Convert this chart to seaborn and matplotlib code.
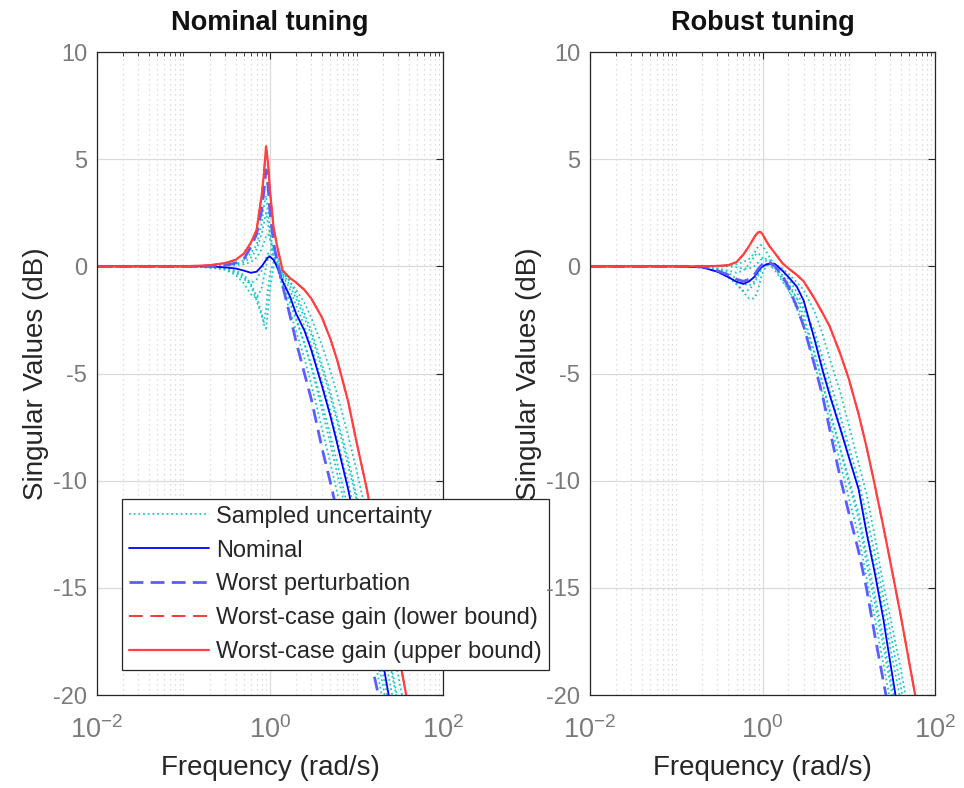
import numpy as np
import pandas as pd
import seaborn as sns
import matplotlib
matplotlib.use('Agg')
import matplotlib.pyplot as plt
from matplotlib.ticker import FixedLocator, NullFormatter

# frequency grid (rad/s) shared by every curve
freq = [0.01, 0.05, 0.1, 0.2, 0.3, 0.4, 0.5, 0.6, 0.7, 0.8, 0.85, 0.9, 0.95, 1.0, 1.1, 1.2,
        1.4, 1.7, 2.0, 2.5, 3, 4, 5, 6, 8, 10, 13, 16, 20, 25, 30, 40, 60, 100]

# ---- Nominal tuning (dB) ----
nom_nominal = [0, 0, 0, 0, -0.05, -0.1, -0.2, -0.3, -0.25, 0.0, 0.15, 0.3, 0.42, 0.45, 0.3, 0.0,
               -0.7, -1.4, -2.2, -3.0, -3.9, -5.6, -7.0, -8.3, -10.4, -12.3, -14.5, -16.3, -18.4,
               -20.6, -22.2, -24.5, -28, -32]
nom_worst = [0, 0, 0, 0, 0.05, 0.15, 0.35, 0.9, 1.5, 2.6, 3.5, 4.5, 3.7, 2.5, 1.1, 0.3,
             -0.9, -2.3, -3.5, -5.0, -6.2, -8.5, -10.1, -11.5, -13.6, -15.3, -17.4, -19.1, -20.9,
             -22.7, -24.2, -26.5, -30, -34]
nom_upper = [0, 0, 0, 0.05, 0.15, 0.3, 0.6, 1.1, 1.7, 3.3, 4.3, 5.6, 4.8, 3.5, 1.8, 1.0,
             -0.2, -0.55, -0.75, -1.1, -1.5, -2.4, -3.4, -4.4, -6.3, -8.2, -10.3, -12.2, -14.2,
             -16.2, -17.9, -20.6, -24, -29]
nom_lower = nom_upper  # lies under the upper bound in the picture
nom_samples = [
    [0, 0, 0, 0, 0.05, 0.1, 0.3, 0.6, 1.0, 2.0, 2.8, 3.3, 2.5, 1.6, 0.6, 0.0, -1.0, -2.1, -3.0,
     -4.3, -5.5, -7.6, -9.2, -10.6, -12.7, -14.4, -16.5, -18.2, -20.2, -22.1, -23.6, -26, -29.5, -34],
    [0, 0, 0, 0, 0, 0.05, 0.1, 0.2, 0.4, 0.8, 1.1, 1.4, 1.5, 1.3, 0.8, 0.4, -0.5, -1.5, -2.4,
     -3.6, -4.7, -6.7, -8.3, -9.7, -11.8, -13.6, -15.7, -17.5, -19.5, -21.4, -23.0, -25.4, -29, -33],
    [0, 0, 0, -0.05, -0.1, -0.25, -0.5, -0.9, -1.6, -2.3, -2.6, -2.0, -1.0, -0.3, 0.2, 0.1, -0.4,
     -1.1, -1.8, -2.8, -3.7, -5.4, -6.8, -8.1, -10.1, -11.8, -13.9, -15.7, -17.7, -19.7, -21.3, -23.8,
     -27.4, -32],
    [0, 0, 0, -0.05, -0.15, -0.4, -0.8, -1.3, -1.5, -1.0, -0.5, 0.0, 0.4, 0.6, 0.5, 0.2, -0.3,
     -0.9, -1.5, -2.4, -3.2, -4.8, -6.1, -7.3, -9.3, -10.9, -13.0, -14.8, -16.8, -18.8, -20.4, -22.9,
     -26.5, -31],
    [0, 0, 0, 0, 0.05, 0.1, 0.2, 0.4, 0.8, 1.5, 2.0, 2.5, 2.0, 1.3, 0.5, 0.0, -0.8, -1.7, -2.5,
     -3.6, -4.6, -6.4, -7.9, -9.2, -11.3, -13.0, -15.1, -16.9, -18.9, -20.9, -22.5, -25, -28.6, -33],
    [0, 0, 0, -0.05, -0.15, -0.3, -0.6, -0.8, -0.6, -0.2, 0.1, 0.4, 0.6, 0.75, 0.8, 0.6, -0.3,
     -0.7, -1.1, -1.7, -2.4, -3.7, -4.9, -6.0, -7.9, -9.5, -11.6, -13.4, -15.4, -17.4, -19.0, -21.6,
     -25.2, -30],
    [0, 0, 0, -0.05, -0.1, -0.2, -0.4, -0.8, -1.4, -2.2, -2.7, -2.9, -2.0, -1.0, 0.0, 0.2, -0.1,
     -0.7, -1.3, -2.2, -3.0, -4.6, -5.9, -7.1, -9.0, -10.7, -12.8, -14.6, -16.6, -18.6, -20.2, -22.7,
     -26.3, -31],
]

# ---- Robust tuning (dB) ----
rob_nominal = [0, 0, 0, -0.05, -0.25, -0.5, -0.72, -0.82, -0.7, -0.5, -0.35, -0.2, -0.08, 0.0,
               0.08, 0.13, 0.1, -0.2, -0.5, -0.95, -1.6, -3.4, -4.9, -6.0, -7.6, -8.9, -10.4, -12.4,
               -14.3, -16.4, -18.4, -21.5, -25.5, -30]
rob_worst = [0, 0, 0, 0, -0.2, -0.4, -0.6, -0.7, -0.6, -0.4, -0.25, -0.1, 0.0, 0.1, 0.2, 0.2,
             0.0, -0.45, -0.95, -1.9, -2.8, -4.6, -6.1, -7.6, -9.9, -11.5, -13.3, -15.0, -17.2,
             -19.3, -21.0, -23.5, -27, -32]
rob_upper = [0, 0, 0, 0, 0.02, 0.05, 0.2, 0.55, 0.95, 1.35, 1.5, 1.6, 1.6, 1.5, 1.2, 0.95,
             0.6, 0.15, -0.1, -0.4, -0.7, -1.5, -2.2, -2.8, -4.1, -5.25, -6.9, -8.4, -10.2,
             -12.1, -13.7, -16.3, -20.2, -25.5]
rob_lower = rob_upper
rob_samples = [
    [0, 0, 0, 0, 0, 0.05, 0.1, 0.2, 0.35, 0.6, 0.8, 0.95, 1.0, 0.95, 0.7, 0.45, 0.0, -0.5, -0.9,
     -1.5, -2.0, -3.0, -4.3, -5.3, -7.0, -8.4, -10.0, -11.6, -13.4, -15.4, -17.0, -19.6, -23.5, -28.5],
    [0, 0, 0, -0.05, -0.2, -0.45, -0.8, -1.2, -1.5, -1.5, -1.3, -1.0, -0.6, -0.3, 0.0, 0.1, 0.0,
     -0.4, -0.8, -1.5, -2.3, -4.0, -5.5, -6.8, -8.6, -10.1, -11.8, -13.8, -15.7, -17.7, -19.4, -22.0,
     -25.8, -31],
    [0, 0, 0, 0, -0.1, -0.2, -0.3, -0.2, 0.1, 0.45, 0.6, 0.6, 0.5, 0.4, 0.25, 0.1, -0.2, -0.7,
     -1.1, -1.8, -2.5, -4.1, -5.5, -6.7, -8.5, -9.9, -11.5, -13.4, -15.3, -17.3, -19.0, -21.6, -25.4,
     -30.5],
    [0, 0, 0, -0.05, -0.25, -0.5, -0.85, -1.15, -1.1, -0.8, -0.6, -0.4, -0.2, -0.05, 0.1, 0.15,
     0.1, -0.2, -0.6, -1.2, -1.9, -3.3, -4.7, -5.8, -7.5, -8.8, -10.4, -12.2, -14.0, -16.0, -17.7,
     -20.3, -24.2, -29.2],
    [0, 0, 0, 0, -0.1, -0.3, -0.6, -0.8, -0.9, -0.7, -0.5, -0.3, -0.15, 0.0, 0.1, 0.1, -0.1,
     -0.6, -1.1, -2.0, -2.8, -4.5, -6.0, -7.2, -9.2, -10.8, -12.6, -14.5, -16.4, -18.5, -20.2, -22.8,
     -26.6, -31.6],
    [0, 0, 0, 0, 0, 0, -0.05, -0.1, -0.1, 0.0, 0.1, 0.2, 0.3, 0.35, 0.35, 0.3, 0.1, -0.1, -0.35,
     -0.75, -1.1, -2.1, -3.2, -4.3, -5.9, -7.4, -9.2, -10.6, -12.6, -14.8, -16.3, -18.8, -22.6, -27.6],
]

labels = ['Sampled uncertainty', 'Nominal', 'Worst perturbation',
          'Worst-case gain (lower bound)', 'Worst-case gain (upper bound)']

sns.set_theme(style='white')
plt.rcParams['font.family'] = ['Liberation Sans', 'DejaVu Sans']
plt.rcParams['mathtext.fontset'] = 'custom'
plt.rcParams['mathtext.rm'] = 'Liberation Sans'
plt.rcParams['axes.unicode_minus'] = False

fig = plt.figure(figsize=(9.64, 7.88), dpi=100)
ax1 = fig.add_axes([0.1006, 0.118, 0.359, 0.816])
ax2 = fig.add_axes([0.612, 0.118, 0.358, 0.816])


def draw(ax, samples, nominal, worst, lower, upper, title):
    ax.set_xscale('log')
    handles = []
    for i, s in enumerate(samples):
        sns.lineplot(x=freq, y=s, ax=ax, color='#1ec8c8', linestyle=(0, (1, 1.6)), lw=1.3,
                     estimator=None, sort=False)
        if i == 0:
            handles.append(ax.lines[-1])
    sns.lineplot(x=freq, y=nominal, ax=ax, color='#0000ff', lw=1.3, estimator=None, sort=False)
    handles.append(ax.lines[-1])
    sns.lineplot(x=freq, y=worst, ax=ax, color='#5c5cff', lw=2.0, linestyle=(0, (5, 2.6)),
                 estimator=None, sort=False)
    handles.append(ax.lines[-1])
    sns.lineplot(x=freq, y=lower, ax=ax, color='#ff0000', lw=1.1, linestyle=(0, (9, 5)),
                 estimator=None, sort=False)
    handles.append(ax.lines[-1])
    sns.lineplot(x=freq, y=upper, ax=ax, color='#ff4040', lw=1.6, estimator=None, sort=False)
    handles.append(ax.lines[-1])

    ax.set_xlim(1e-2, 1e2)
    ax.set_ylim(-20, 10)
    ax.set_yticks([-20, -15, -10, -5, 0, 5, 10])
    ax.xaxis.set_major_locator(FixedLocator([1e-2, 1e0, 1e2]))
    minor = [m * 10.0 ** d for d in (-2, -1, 0, 1) for m in range(1, 10) if not (m == 1 and d % 2 == 0)]
    ax.xaxis.set_minor_locator(FixedLocator(minor))
    ax.xaxis.set_minor_formatter(NullFormatter())
    ax.grid(True, which='major', color='#dadada', lw=0.9, ls='-')
    ax.grid(True, which='minor', axis='x', color='#d2d2d2', lw=0.9, ls=(0, (1, 3)))
    ax.set_axisbelow(True)
    ax.tick_params(which='both', direction='in', top=True, right=True, color='#262626')
    ax.tick_params(which='major', length=5, width=0.8, labelcolor='#7a7a7a')
    ax.tick_params(axis='x', which='major', pad=15, labelsize=19.5)
    ax.tick_params(axis='y', which='major', pad=7, labelsize=17)
    ax.tick_params(which='minor', length=3, width=0.6)
    for sp in ax.spines.values():
        sp.set_color('#262626')
        sp.set_linewidth(0.9)
    ax.set_xlabel('Frequency (rad/s)', fontsize=20, color='#262626', labelpad=8)
    ax.set_ylabel('Singular Values (dB)', fontsize=20, color='#262626', labelpad=3)
    ax.set_title(title, fontsize=19.5, fontweight='bold', color='#111111', pad=16)
    return handles


h = draw(ax1, nom_samples, nom_nominal, nom_worst, nom_lower, nom_upper, 'Nominal tuning')
draw(ax2, rob_samples, rob_nominal, rob_worst, rob_lower, rob_upper, 'Robust tuning')
if ax2.get_legend() is not None:
    ax2.get_legend().remove()

leg = ax1.legend(h, labels, loc='lower left', bbox_to_anchor=(0.1266, 0.1497),
                 bbox_transform=fig.transFigure, fontsize=17, frameon=True, fancybox=False,
                 framealpha=1, edgecolor='#262626', handlelength=3.4, handletextpad=0.3,
                 borderpad=0.3, labelspacing=0.5, borderaxespad=0)
leg.get_frame().set_linewidth(0.9)
for t in leg.get_texts():
    t.set_color('#262626')

plt.savefig('out.png', dpi=100)
